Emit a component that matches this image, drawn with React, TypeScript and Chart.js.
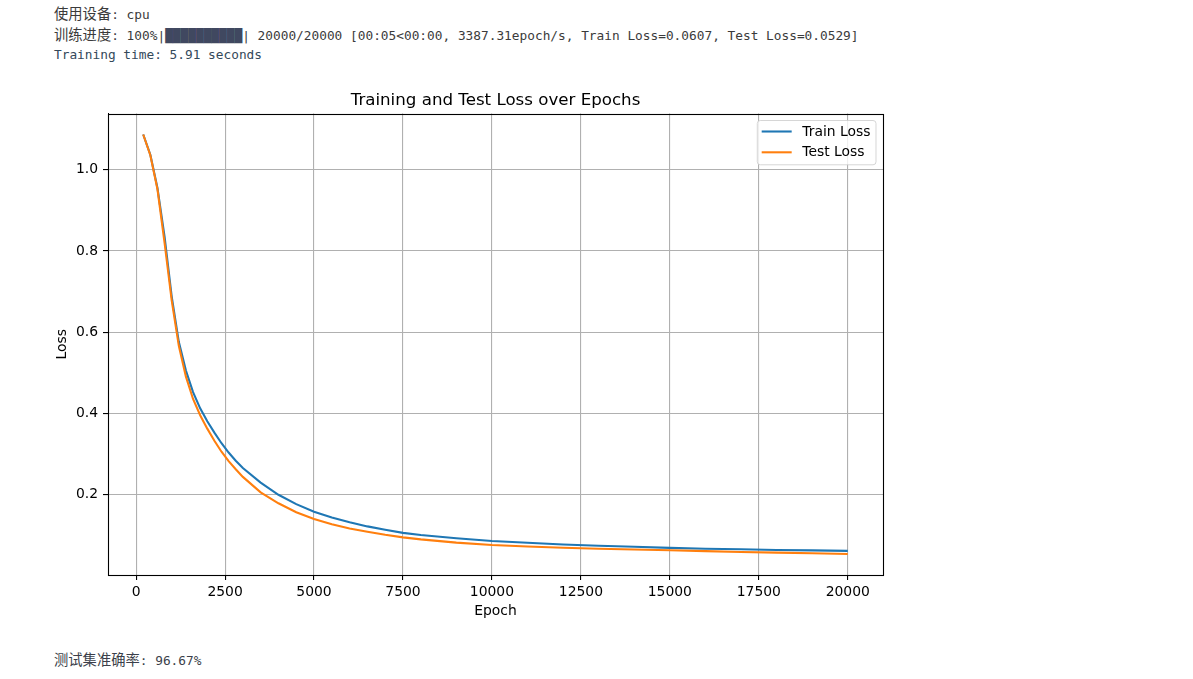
import React, { useEffect, useRef } from "react";
import { Chart, registerables } from "chart.js";

Chart.register(...registerables);

// ---------------- data ----------------
const epochs = [
  200, 400, 600, 800, 1000, 1200, 1400, 1600, 1800, 2000, 2200, 2400, 2600, 2800, 3000,
  3500, 4000, 4500, 5000, 5500, 6000, 6500, 7000, 7500, 8000, 9000, 10000, 11000, 12000,
  13000, 14000, 15000, 16000, 17000, 18000, 19000, 20000,
];
const trainLoss = [
  1.087, 1.037, 0.955, 0.835, 0.688, 0.576, 0.505, 0.452, 0.412, 0.38, 0.352, 0.326, 0.303,
  0.283, 0.265, 0.229, 0.199, 0.176, 0.157, 0.143, 0.1314, 0.121, 0.1125, 0.105, 0.1, 0.092,
  0.085, 0.0805, 0.0765, 0.0735, 0.071, 0.068, 0.066, 0.0645, 0.063, 0.0618, 0.0607,
];
const testLoss = [
  1.087, 1.036, 0.952, 0.82, 0.678, 0.566, 0.49, 0.435, 0.395, 0.362, 0.332, 0.305, 0.282,
  0.262, 0.243, 0.205, 0.178, 0.156, 0.139, 0.126, 0.116, 0.108, 0.1005, 0.094, 0.089, 0.081,
  0.075, 0.0715, 0.0685, 0.066, 0.064, 0.062, 0.06, 0.058, 0.0563, 0.0546, 0.0529,
];
const seriesLabels = ["Train Loss", "Test Loss"];
const seriesColors = ["#1f77b4", "#ff7f0e"];
const xTicks = [0, 2500, 5000, 7500, 10000, 12500, 15000, 17500, 20000];
const yTicks = [0.2, 0.4, 0.6, 0.8, 1.0];
const chartTitle = "Training and Test Loss over Epochs";
const xTitle = "Epoch";
const yTitle = "Loss";

const FONT = '"DejaVu Sans", sans-serif';
const MONO = '"DejaVu Sans Mono", "Noto Sans CJK SC", monospace';

const framePlugin = {
  id: "mplFrame",
  afterDatasetsDraw(chart: any) {
    const { ctx, chartArea } = chart;
    ctx.save();
    ctx.strokeStyle = "#000";
    ctx.lineWidth = 1.1;
    ctx.strokeRect(
      Math.round(chartArea.left) + 0.5,
      Math.round(chartArea.top) + 0.5,
      Math.round(chartArea.right) - Math.round(chartArea.left),
      Math.round(chartArea.bottom) - Math.round(chartArea.top)
    );
    ctx.restore();
  },
};

const legendPlugin = {
  id: "mplLegend",
  afterDraw(chart: any) {
    const { ctx, chartArea } = chart;
    const ds = chart.data.datasets;
    ctx.save();
    ctx.font = `13.9px ${FONT}`;
    const tw = Math.max(...ds.map((d: any) => ctx.measureText(d.label).width));
    const w = 45 + tw + 5.5;
    const h = 44.3;
    const right = chartArea.right - 7;
    const left = right - w;
    const top = chartArea.top + 7;
    ctx.beginPath();
    (ctx as any).roundRect(left, top, w, h, 3);
    ctx.fillStyle = "rgba(255,255,255,0.8)";
    ctx.fill();
    ctx.strokeStyle = "rgba(204,204,204,0.8)";
    ctx.lineWidth = 1;
    ctx.stroke();
    ds.forEach((d: any, i: number) => {
      const y = top + 11 + i * 20.8;
      ctx.beginPath();
      ctx.strokeStyle = d.borderColor;
      ctx.lineWidth = 2.08;
      ctx.moveTo(left + 4.4, y);
      ctx.lineTo(left + 34.4, y);
      ctx.stroke();
      ctx.fillStyle = "#000";
      ctx.textBaseline = "middle";
      ctx.textAlign = "left";
      ctx.fillText(d.label, left + 45, y + 0.5);
    });
    ctx.restore();
  },
};

function LossChart() {
  const ref = useRef<HTMLCanvasElement | null>(null);
  useEffect(() => {
    if (!ref.current) return;
    const tickFont = { family: FONT, size: 13.9 };
    const chart = new Chart(ref.current, {
      type: "line",
      data: {
        datasets: [
          {
            label: seriesLabels[0],
            data: epochs.map((e, i) => ({ x: e, y: trainLoss[i] })),
            borderColor: seriesColors[0],
            backgroundColor: seriesColors[0],
            borderWidth: 2.08,
            pointRadius: 0,
            tension: 0,
            fill: false,
            order: 1,
          },
          {
            label: seriesLabels[1],
            data: epochs.map((e, i) => ({ x: e, y: testLoss[i] })),
            borderColor: seriesColors[1],
            backgroundColor: seriesColors[1],
            borderWidth: 2.08,
            pointRadius: 0,
            tension: 0,
            fill: false,
            order: 0,
          },
        ],
      },
      options: {
        animation: false,
        responsive: false,
        devicePixelRatio: 1,
        layout: { padding: { left: 0, right: 17, top: 0, bottom: 0 } },
        plugins: {
          legend: { display: false },
          tooltip: { enabled: false },
          title: {
            display: true,
            fullSize: false,
            text: chartTitle,
            color: "#000",
            font: { family: FONT, size: 16.67, weight: "normal" },
            padding: { top: 10.5, bottom: 3 },
          },
        },
        scales: {
          x: {
            type: "linear",
            min: -790,
            max: 20990,
            afterBuildTicks: (s: any) => {
              s.ticks = xTicks.map((v) => ({ value: v }));
            },
            afterFit: (s: any) => {
              s.height = 65;
            },
            ticks: {
              callback: (v: any) => String(v),
              color: "#000",
              font: tickFont,
              padding: 4,
              autoSkip: false,
              maxRotation: 0,
            },
            grid: { color: "#b0b0b0", lineWidth: 1.1, tickColor: "#000", tickLength: 5, drawTicks: true },
            border: { display: true, color: "#000", width: 1 },
            title: {
              display: true,
              text: xTitle,
              color: "#000",
              font: tickFont,
              padding: { top: 0, bottom: 20.7 },
            },
          },
          y: {
            type: "linear",
            min: 0.0012,
            max: 1.1387,
            afterBuildTicks: (s: any) => {
              s.ticks = yTicks.map((v) => ({ value: v }));
            },
            afterFit: (s: any) => {
              s.width = 108;
            },
            ticks: {
              callback: (v: any) => Number(v).toFixed(1),
              color: "#000",
              font: tickFont,
              padding: 5,
              autoSkip: false,
            },
            grid: { color: "#b0b0b0", lineWidth: 1.1, tickColor: "#000", tickLength: 5, drawTicks: true },
            border: { display: true, color: "#000", width: 1 },
            title: {
              display: true,
              text: yTitle,
              color: "#000",
              font: tickFont,
              padding: { top: 54.4, bottom: 0 },
            },
          },
        },
      } as any,
      plugins: [framePlugin, legendPlugin],
    });
    return () => chart.destroy();
  }, []);
  return (
    <canvas
      ref={ref}
      width={900}
      height={560}
      style={{ position: "absolute", left: 0, top: 80, width: 900, height: 560 }}
    />
  );
}

const cjkStyle: React.CSSProperties = { fontFamily: '"Noto Sans CJK SC"', fontSize: "14.3px" };

const lineStyle = (top: number, color: string): React.CSSProperties => ({
  position: "absolute",
  left: 54,
  top,
  fontFamily: MONO,
  fontSize: "12.8px",
  lineHeight: "21px",
  whiteSpace: "pre",
  color,
});

export default function App() {
  return (
    <div
      style={{
        position: "absolute",
        left: 0,
        top: 0,
        width: 1193,
        height: 679,
        overflow: "hidden",
        background: "#fff",
      }}
    >
      <div style={lineStyle(1.5, "#3b3b3b")}>
        <span style={cjkStyle}>使用设备</span>: cpu
      </div>
      <div style={lineStyle(22.5, "#3b3b3b")}>
        <span style={cjkStyle}>训练进度</span>: 100%|<span style={{ color: "#404860" }}>██████████</span>| 20000/20000 [00:05&lt;00:00, 3387.31epoch/s, Train Loss=0.0607, Test Loss=0.0529]
      </div>
      <div style={lineStyle(43.5, "#34495a")}>Training time: 5.91 seconds</div>
      <LossChart />
      <div style={lineStyle(647.5, "#3b3f4a")}>
        <span style={cjkStyle}>测试集准确率</span>: 96.67%
      </div>
    </div>
  );
}
